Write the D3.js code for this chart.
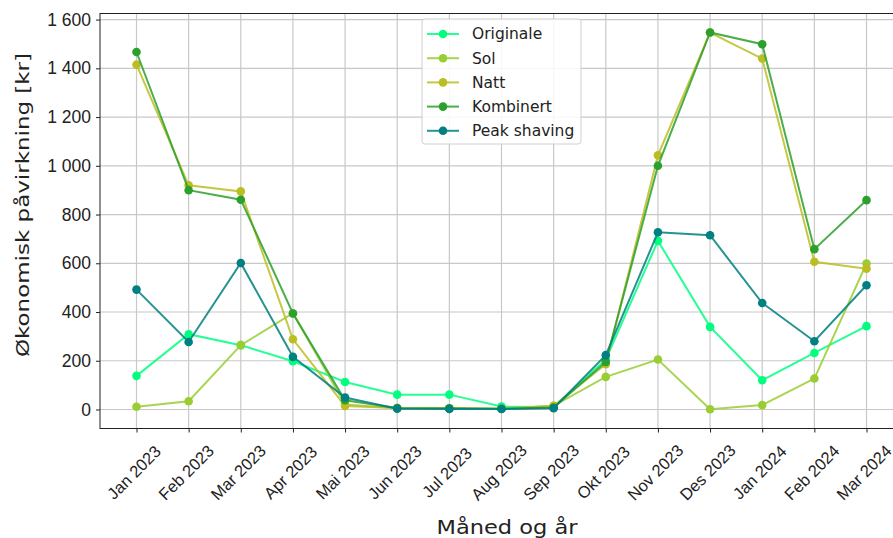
<!DOCTYPE html>
<html>
<head>
<meta charset="utf-8">
<script src="https://cdn.jsdelivr.net/npm/d3@7"></script>
<style>
  html, body { margin: 0; padding: 0; background: #fff; }
  svg { display: block; font-family: "DejaVu Sans", sans-serif; }
</style>
</head>
<body>
<svg id="chart" width="893" height="538"></svg>
<script>
// Months on the x axis
const months = ["Jan 2023", "Feb 2023", "Mar 2023", "Apr 2023", "Mai 2023", "Jun 2023",
  "Jul 2023", "Aug 2023", "Sep 2023", "Okt 2023", "Nov 2023", "Des 2023",
  "Jan 2024", "Feb 2024", "Mar 2024"];

// Economic impact per strategy [kr]
const originale    = [138, 309, 264, 198, 113, 61, 61, 12, 10, 205, 692, 339, 120, 232, 342];
const sol          = [11, 34, 264, 395, 20, 5, 4, 3, 15, 134, 205, 1, 18, 127, 599];
const natt         = [1415, 920, 895, 288, 14, 6, 5, 3, 15, 186, 1043, 1547, 1440, 606, 578];
const kombinert    = [1467, 900, 861, 394, 38, 6, 5, 3, 8, 195, 1000, 1547, 1499, 658, 859];
const peakShaving  = [492, 277, 601, 216, 49, 3, 2, 2, 5, 223, 727, 715, 437, 280, 510];

const yTicks = [0, 200, 400, 600, 800, 1000, 1200, 1400, 1600];

const series = [
  { name: "Originale", values: originale, color: "#00ff7f" },
  { name: "Sol", values: sol, color: "#9acd32" },
  { name: "Natt", values: natt, color: "#bcbd22" },
  { name: "Kombinert", values: kombinert, color: "#2ca02c" },
  { name: "Peak shaving", values: peakShaving, color: "#008080" }
];

const svg = d3.select("#chart");
const plot = { left: 100, right: 903, top: 13.5, bottom: 428.5 };

const x = d3.scalePoint()
  .domain(months)
  .range([plot.left, plot.right])
  .padding(0.7);

const y = d3.scaleLinear()
  .domain([-78, 1625])
  .range([plot.bottom, plot.top]);

const fmt = v => d3.format(",")(v).replace(/,/g, " ");

// Grid
const grid = svg.append("g").attr("class", "grid");
grid.selectAll("line.v").data(months).join("line")
  .attr("x1", d => x(d)).attr("x2", d => x(d))
  .attr("y1", plot.top).attr("y2", plot.bottom)
  .attr("stroke", "#c8c8c8").attr("stroke-width", 1.2);
grid.selectAll("line.h").data(yTicks).join("line")
  .attr("x1", plot.left).attr("x2", plot.right)
  .attr("y1", d => y(d)).attr("y2", d => y(d))
  .attr("stroke", "#c8c8c8").attr("stroke-width", 1.2);

// Series lines and markers
const line = d3.line()
  .x((d, i) => x(months[i]))
  .y(d => y(d));

series.forEach(s => {
  const g = svg.append("g");
  g.append("path")
    .datum(s.values)
    .attr("d", line)
    .attr("fill", "none")
    .attr("stroke", s.color)
    .attr("stroke-opacity", 0.85)
    .attr("stroke-width", 2);
  g.selectAll("circle").data(s.values).join("circle")
    .attr("cx", (d, i) => x(months[i]))
    .attr("cy", d => y(d))
    .attr("r", 4.3)
    .attr("fill", s.color);
});

// Axes
const xAxis = svg.append("g")
  .attr("transform", `translate(0,${plot.bottom})`)
  .call(d3.axisBottom(x).tickSizeOuter(0).tickSize(4).tickPadding(0));
xAxis.select(".domain").remove();
xAxis.selectAll(".tick line").attr("stroke", "#222");
xAxis.selectAll(".tick text")
  .attr("font-size", 16.5)
  .attr("fill", "#222")
  .attr("text-anchor", "middle")
  .attr("y", 0)
  .attr("dy", "0.35em")
  .attr("transform", "translate(-3,44) rotate(-45)");

const yAxis = svg.append("g")
  .attr("transform", `translate(${plot.left},0)`)
  .call(d3.axisLeft(y).tickValues(yTicks).tickFormat(fmt).tickSize(4).tickPadding(5));
yAxis.select(".domain").remove();
yAxis.selectAll(".tick line").attr("stroke", "#222");
yAxis.selectAll(".tick text").attr("font-size", 17.5).attr("fill", "#222");

// Spines
svg.append("rect")
  .attr("x", plot.left).attr("y", plot.top)
  .attr("width", plot.right - plot.left).attr("height", plot.bottom - plot.top)
  .attr("fill", "none").attr("stroke", "#222").attr("stroke-width", 1);

// Axis titles
svg.append("text")
  .attr("x", 507).attr("y", 534)
  .attr("text-anchor", "middle")
  .attr("font-size", 20).attr("fill", "#222")
  .attr("textLength", 141).attr("lengthAdjust", "spacingAndGlyphs")
  .text("Måned og år");

svg.append("text")
  .attr("transform", "translate(29,205) rotate(-90)")
  .attr("text-anchor", "middle")
  .attr("font-size", 18.5).attr("fill", "#222")
  .attr("textLength", 304).attr("lengthAdjust", "spacingAndGlyphs")
  .text("Økonomisk påvirkning [kr]");

// Legend
const legend = svg.append("g").attr("transform", "translate(422,19)");
legend.append("rect")
  .attr("width", 159).attr("height", 125)
  .attr("rx", 3)
  .attr("fill", "#fff").attr("fill-opacity", 0.85)
  .attr("stroke", "#d0d0d0");
series.forEach((s, i) => {
  const row = legend.append("g").attr("transform", `translate(0,${15 + i * 24.2})`);
  row.append("line")
    .attr("x1", 5).attr("x2", 37)
    .attr("stroke", s.color).attr("stroke-opacity", 0.85).attr("stroke-width", 2);
  row.append("circle").attr("cx", 21).attr("r", 4.3).attr("fill", s.color);
  row.append("text")
    .attr("x", 50).attr("dy", "0.35em")
    .attr("font-size", 15.5).attr("fill", "#222")
    .text(s.name);
});
</script>
</body>
</html>
